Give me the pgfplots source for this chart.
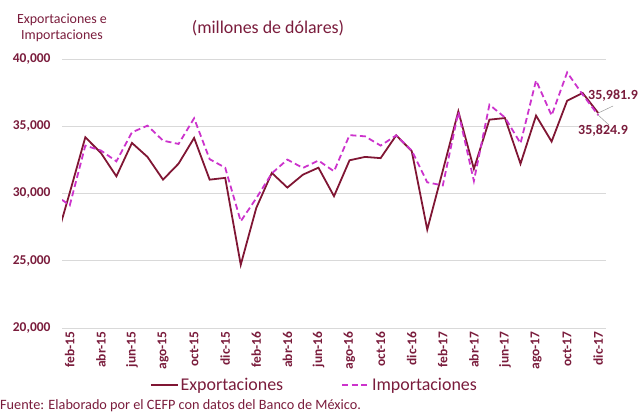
\documentclass[border=0pt]{standalone}
\usepackage{fontspec}
\setmainfont{Carlito}
\usepackage{pgfplots}
\pgfplotsset{compat=1.18}
\definecolor{vino}{RGB}{128,22,52}
\definecolor{magen}{RGB}{204,51,204}
\definecolor{txt}{RGB}{122,28,60}

\begin{document}
\begin{tikzpicture}
\useasboundingbox (0,0) rectangle (639bp,413bp);
\begin{axis}[
    at={(62bp,85bp)}, anchor=south west,
    scale only axis, width=544bp, height=269bp,
    xmin=-0.5, xmax=34.5, ymin=20000, ymax=40000,
    xtick={0,2,...,34},
    xticklabels={feb-15,abr-15,jun-15,ago-15,oct-15,dic-15,feb-16,abr-16,jun-16,ago-16,oct-16,dic-16,feb-17,abr-17,jun-17,ago-17,oct-17,dic-17},
    x tick label style={rotate=90, anchor=east, font=\fontsize{13.5}{15}\selectfont\bfseries, text=txt},
    ytick={20000,25000,...,40000},
    scaled y ticks=false,
    yticklabel={\pgfmathprintnumber[fixed,precision=0,1000 sep={,}]{\tick}},
    y tick label style={font=\fontsize{13.5}{15}\selectfont\bfseries, text=txt, xshift=-8bp},
    /pgf/number format/assume math mode=true,
    ymajorgrids, grid style={draw=black!15, line width=0.9pt},
    axis line style={draw=none}, major tick style={draw=none},
    legend columns=2,
    legend style={at={(0.464,-0.212)}, anchor=center, draw=none, fill=none,
        font=\fontsize{18}{20}\selectfont, text=txt, inner sep=0pt,
        /tikz/every even column/.append style={column sep=56bp}},
    legend image code/.code={\draw[#1] (0bp,0bp) -- (27bp,0bp);},
]
\addplot[vino, line width=1.8pt] coordinates {
(-1,26060) (0,30060) (1,34180) (2,33020) (3,31280) (4,33760) (5,32720) (6,31030)
(7,32220) (8,34130) (9,31030) (10,31160) (11,24700) (12,28930) (13,31530) (14,30440)
(15,31400) (16,31920) (17,29800) (18,32470) (19,32720) (20,32630) (21,34320) (22,33160)
(23,27320) (24,31700) (25,36110) (26,31830) (27,35490) (28,35610) (29,32210) (30,35790)
(31,33860) (32,36900) (33,37470) (34,35981.9)};
\addplot[magen, line width=1.8pt, dash pattern=on 6bp off 3.5bp] coordinates {
(-1,29940) (0,29120) (1,33560) (2,33200) (3,32390) (4,34550) (5,35045) (6,33930)
(7,33685) (8,35590) (9,32550) (10,31920) (11,27935) (12,29650) (13,31500) (14,32520)
(15,31900) (16,32450) (17,31650) (18,34340) (19,34250) (20,33560) (21,34320) (22,33200)
(23,30830) (24,30600) (25,36050) (26,30930) (27,36600) (28,35650) (29,33730) (30,38410)
(31,35800) (32,39000) (33,37350) (34,35824.9)};
\legend{Exportaciones, Importaciones}
\coordinate (pe) at (axis cs:34,35981.9);
\coordinate (pi) at (axis cs:34,35824.9);
\end{axis}
\draw[black!40, line width=0.5pt] (pe) -- (613bp,307bp);
\draw[black!40, line width=0.5pt] (pi) -- (609bp,288bp);
\node[anchor=west, text=txt, font=\fontsize{14}{16}\selectfont\bfseries, inner sep=0pt] at (588bp,317bp) {35,981.9};
\node[anchor=west, text=txt, font=\fontsize{14}{16}\selectfont\bfseries, inner sep=0pt] at (578bp,282bp) {35,824.9};
\node[text=txt, font=\fontsize{14}{16}\selectfont, align=center, inner sep=0pt] at (62bp,385bp) {Exportaciones e\\Importaciones};
\node[text=txt, font=\fontsize{18}{20}\selectfont, inner sep=0pt] at (268bp,385bp) {(millones de dólares)};
\node[anchor=west, text=txt, font=\fontsize{14.3}{16}\selectfont, inner sep=0pt] at (0bp,7bp) {Fuente: Elaborado por el CEFP con datos del Banco de México.};
\end{tikzpicture}
\end{document}
